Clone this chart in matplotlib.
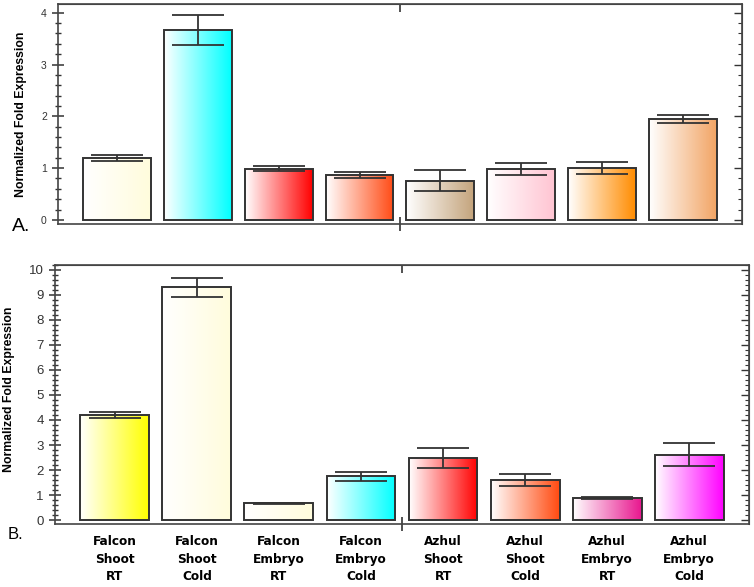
import numpy as np
import matplotlib
matplotlib.use("Agg")
import matplotlib.pyplot as plt
from matplotlib.colors import LinearSegmentedColormap
from matplotlib.ticker import MultipleLocator

# ---- data
categories = ["Falcon\nShoot\nRT", "Falcon\nShoot\nCold", "Falcon\nEmbryo\nRT", "Falcon\nEmbryo\nCold",
              "Azhul\nShoot\nRT", "Azhul\nShoot\nCold", "Azhul\nEmbryo\nRT", "Azhul\nEmbryo\nCold"]

vals_a = [1.20, 3.67, 0.99, 0.86, 0.76, 0.98, 1.00, 1.95]
errs_a = [0.06, 0.29, 0.05, 0.06, 0.20, 0.11, 0.11, 0.08]
colors_a = ["#FFFCDC", "#00FFFF", "#FF0000", "#FF4A14", "#C4A47C", "#FFC4D2", "#FF8C00", "#F2A464"]

vals_b = [4.20, 9.30, 0.67, 1.75, 2.48, 1.60, 0.89, 2.62]
errs_b = [0.12, 0.37, 0.03, 0.17, 0.41, 0.23, 0.05, 0.46]
colors_b = ["#FFFF00", "#FFFCDC", "#FFFCDC", "#00FFFF", "#FF0000", "#FF4A10", "#E8168E", "#FF00FF"]

EDGE = "#333333"


def gradient_bars(ax, x, vals, colors):
    """Draw bars filled with a white -> colour horizontal gradient."""
    bars = ax.bar(x, vals, width=0.84, facecolor="none", edgecolor=EDGE, linewidth=1.4, zorder=3)
    grad = np.linspace(0, 1, 256).reshape(1, -1)
    for bar, c in zip(bars, colors):
        cmap = LinearSegmentedColormap.from_list("g", ["#FFFFFF", c])
        x0, w, h = bar.get_x(), bar.get_width(), bar.get_height()
        im = ax.imshow(grad, cmap=cmap, extent=(x0, x0 + w, 0, h), aspect="auto",
                       origin="lower", zorder=2, interpolation="bilinear")
        im.set_clip_path(bar)
    return bars


def style_axes(ax, ylim, major, minor, ticksize):
    ax.set_xlim(-0.73, 7.73)
    ax.set_ylim(*ylim)
    for s in ax.spines.values():
        s.set_color("#444444")
        s.set_linewidth(1.2)
    ax.yaxis.set_major_locator(MultipleLocator(major))
    ax.yaxis.set_minor_locator(MultipleLocator(minor))
    ax.tick_params(axis="y", which="major", direction="inout", length=8, width=1.1,
                   color="#333333", labelsize=ticksize, labelcolor="#333333", pad=4)
    ax.tick_params(axis="y", which="minor", direction="inout", length=5, width=1.0, color="#333333")
    # middle separator tick on the bottom
    ax.set_xticks([3.5], minor=True)
    ax.tick_params(axis="x", which="minor", direction="inout", length=10, width=1.2, color="#333333")
    ax.tick_params(axis="x", which="major", length=0)
    # right side and top side: inward ticks only
    right = ax.secondary_yaxis("right", functions=(lambda v: v, lambda v: v))
    right.yaxis.set_major_locator(MultipleLocator(major))
    right.yaxis.set_minor_locator(MultipleLocator(minor))
    right.tick_params(which="major", direction="in", length=6, width=1.0, color="#333333", labelright=False)
    right.tick_params(which="minor", direction="in", length=3, width=0.8, color="#333333")
    right.spines["right"].set_color("#444444")
    top = ax.secondary_xaxis("top", functions=(lambda v: v, lambda v: v))
    top.set_xticks([3.5])
    top.tick_params(direction="in", length=6, width=1.2, color="#333333", labeltop=False)
    top.spines["top"].set_color("#444444")


fig = plt.figure(figsize=(7.54, 5.87), dpi=100)
x = np.arange(len(categories))

# ---- panel A
ax_a = fig.add_axes([0.0769, 0.6184, 0.9071, 0.3748])
gradient_bars(ax_a, x, vals_a, colors_a)
ax_a.errorbar(x, vals_a, yerr=errs_a, fmt="none", ecolor="#333333", elinewidth=1.3,
              capsize=19, capthick=1.3, zorder=4)
style_axes(ax_a, (-0.08, 4.17), 1, 0.2, 7.5)
ax_a.set_xticks(x)
ax_a.set_xticklabels([])
ax_a.set_ylabel("Normalized Fold Expression", fontsize=8.8, fontweight="bold",
                family="Liberation Sans")
ax_a.yaxis.set_label_coords(-0.045, 0.5)
fig.text(0.016, 0.607, "A.", fontsize=14, family="Liberation Sans", va="baseline")

# ---- panel B
ax_b = fig.add_axes([0.0729, 0.1073, 0.9205, 0.4413])
gradient_bars(ax_b, x, vals_b, colors_b)
ax_b.errorbar(x, vals_b, yerr=errs_b, fmt="none", ecolor="#333333", elinewidth=1.3,
              capsize=19, capthick=1.3, zorder=4)
style_axes(ax_b, (-0.16, 10.2), 1, 0.2, 9.5)
ax_b.set_xticks(x)
ax_b.set_xticklabels(categories, fontsize=8.7, fontweight="bold", linespacing=1.45)
ax_b.tick_params(axis="x", which="major", pad=8)
ax_b.set_ylabel("Normalized Fold Expression", fontsize=8.8, fontweight="bold",
                family="Liberation Sans")
ax_b.yaxis.set_label_coords(-0.058, 0.52)
fig.text(0.01, 0.082, "B.", fontsize=12, family="Liberation Sans", va="baseline")

for lab in ax_a.get_yticklabels() + ax_b.get_yticklabels():
    lab.set_family("Liberation Sans")

fig.savefig("out.png", dpi=100)
